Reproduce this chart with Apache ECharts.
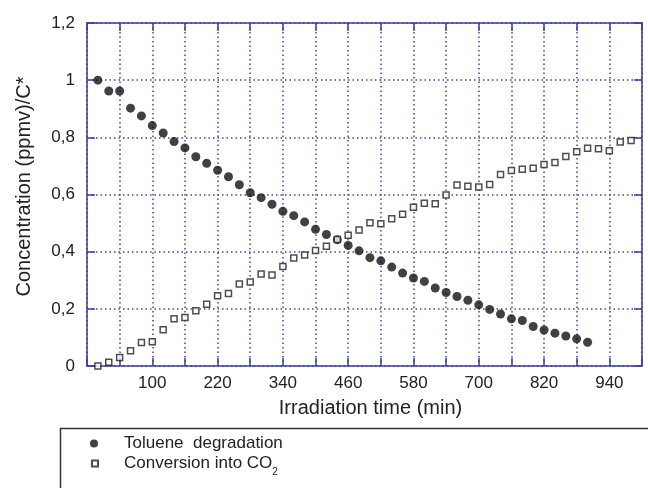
<!DOCTYPE html>
<html>
<head>
<meta charset="utf-8">
<script src="https://cdn.jsdelivr.net/npm/echarts@6/dist/echarts.min.js"></script>
<style>
  html, body { margin: 0; padding: 0; background: #fff; }
  #chart { width: 648px; height: 488px; }
</style>
</head>
<body>
<div id="chart"></div>
<script>
// irradiation times (min)
var tolueneTime = [0, 20, 40, 60, 80, 100, 120, 140, 160, 180, 200, 220, 240, 260, 280, 300,
  320, 340, 360, 380, 400, 420, 440, 460, 480, 500, 520, 540, 560, 580, 600, 620, 640, 660,
  680, 700, 720, 740, 760, 780, 800, 820, 840, 860, 880, 900]
var tolueneConc = [1.0, 0.962, 0.962, 0.902, 0.875, 0.841, 0.815, 0.785, 0.763, 0.732, 0.709,
  0.685, 0.662, 0.634, 0.606, 0.589, 0.566, 0.541, 0.526, 0.504, 0.478, 0.460, 0.442, 0.422,
  0.403, 0.379, 0.368, 0.346, 0.325, 0.308, 0.296, 0.273, 0.257, 0.243, 0.230, 0.214, 0.198,
  0.182, 0.165, 0.159, 0.138, 0.126, 0.115, 0.105, 0.095, 0.083]

var co2Time = [0, 20, 40, 60, 80, 100, 120, 140, 160, 180, 200, 220, 240, 260, 280, 300,
  320, 340, 360, 380, 400, 420, 440, 460, 480, 500, 520, 540, 560, 580, 600, 620, 640, 660,
  680, 700, 720, 740, 760, 780, 800, 820, 840, 860, 880, 900, 920, 940, 960, 980]
var co2Conc = [0.0, 0.013, 0.030, 0.053, 0.082, 0.085, 0.127, 0.165, 0.170, 0.193, 0.216,
  0.246, 0.254, 0.287, 0.294, 0.322, 0.318, 0.348, 0.378, 0.388, 0.404, 0.419, 0.443, 0.457,
  0.476, 0.501, 0.498, 0.515, 0.531, 0.555, 0.569, 0.568, 0.598, 0.633, 0.629, 0.626, 0.635,
  0.670, 0.684, 0.688, 0.692, 0.705, 0.712, 0.733, 0.750, 0.762, 0.760, 0.753, 0.784, 0.789]

// x tick labels shown (every other grid line)
var xTickLabels = [100, 220, 340, 460, 580, 700, 820, 940]

var seriesNames = ['Toluene  degradation', 'Conversion into CO2']

var axisColor = '#3c3c9e'
var gridColor = '#4343aa'
var textColor = '#222'
var fontFamily = 'Liberation Sans, Arial, sans-serif'

function pairs(xs, ys) {
  return xs.map(function (x, i) { return [x, ys[i]] })
}

var chart = echarts.init(document.getElementById('chart'))

// ticks point into the plot (negative length flips them)
function axisCommon() {
  return {
    axisLine: { show: true, onZero: false, lineStyle: { color: axisColor, width: 1.5 } },
    axisTick: { show: true, inside: false, length: -8, lineStyle: { color: axisColor, width: 1.5 } }
  }
}

var baseX = Object.assign({ type: 'value', min: -20, max: 1000, interval: 60 }, axisCommon())
var baseY = Object.assign({ type: 'value', min: 0, max: 1.2, interval: 0.2 }, axisCommon())

chart.setOption({
  animation: false,
  backgroundColor: '#fff',
  textStyle: { fontFamily: fontFamily },
  grid: { left: 87, right: 6, top: 23, bottom: 122 },
  xAxis: [
    Object.assign({}, baseX, {
      position: 'bottom',
      name: 'Irradiation time (min)',
      nameLocation: 'middle',
      nameGap: 32,
      nameTextStyle: { fontSize: 20, color: textColor, fontFamily: fontFamily, padding: [0, 0, 0, 12] },
      axisLabel: {
        interval: 0,
        margin: 9,
        fontSize: 17,
        color: textColor,
        formatter: function (v) {
          return xTickLabels.indexOf(Math.round(v)) >= 0 ? String(Math.round(v)) : ''
        }
      },
      splitLine: { show: true, lineStyle: { color: gridColor, type: [1.5, 3], width: 1.5 } }
    }),
    Object.assign({}, baseX, {
      position: 'top',
      axisLabel: { show: false },
      splitLine: { show: false }
    })
  ],
  yAxis: [
    Object.assign({}, baseY, {
      position: 'left',
      name: 'Concentration (ppmv)/C*',
      nameLocation: 'middle',
      nameGap: 53,
      nameTextStyle: { fontSize: 20, color: textColor, fontFamily: fontFamily, padding: [0, 0, 0, 16] },
      axisLabel: {
        margin: 12,
        fontSize: 17,
        color: textColor,
        formatter: function (v) {
          return String(+v.toFixed(1)).replace('.', ',')
        }
      },
      splitLine: { show: true, lineStyle: { color: gridColor, type: [1.5, 3], width: 1.5 } }
    }),
    Object.assign({}, baseY, {
      position: 'right',
      axisLabel: { show: false },
      splitLine: { show: false }
    })
  ],
  legend: [
    {
      data: [{ name: seriesNames[0], icon: 'circle' }],
      left: 85,
      top: 430,
      itemWidth: 8,
      itemHeight: 8,
      formatter: function (name) {
        return '{g|}{a|' + name + '}'
      },
      textStyle: {
        fontSize: 17,
        color: textColor,
        fontFamily: fontFamily,
        rich: {
          g: { width: 21 },
          a: { fontSize: 17, color: textColor, fontFamily: fontFamily }
        }
      }
    },
    {
      data: [{ name: seriesNames[1], icon: 'rect' }],
      left: 86,
      top: 450,
      itemWidth: 6,
      itemHeight: 6,
      formatter: function () {
        return '{g|}{a|Conversion into CO}{s|2}'
      },
      textStyle: {
        fontSize: 17,
        color: textColor,
        fontFamily: fontFamily,
        rich: {
          g: { width: 21 },
          a: { fontSize: 17, color: textColor, fontFamily: fontFamily },
          s: { fontSize: 10, color: textColor, fontFamily: fontFamily, padding: [17, 0, 0, 0] }
        }
      }
    }
  ],
  graphic: [
    {
      type: 'rect',
      left: 58,
      top: 426,
      shape: { width: 700, height: 100 },
      style: { fill: 'none', stroke: '#333', lineWidth: 1.5 },
      silent: true
    }
  ],
  series: [
    {
      name: seriesNames[0],
      type: 'scatter',
      symbol: 'circle',
      symbolSize: 9,
      itemStyle: { color: '#111' },
      data: pairs(tolueneTime, tolueneConc)
    },
    {
      name: seriesNames[1],
      type: 'scatter',
      symbol: 'rect',
      symbolSize: 6,
      itemStyle: { color: '#fff', borderColor: '#222', borderWidth: 1.5 },
      data: pairs(co2Time, co2Conc)
    }
  ]
})
</script>
</body>
</html>
